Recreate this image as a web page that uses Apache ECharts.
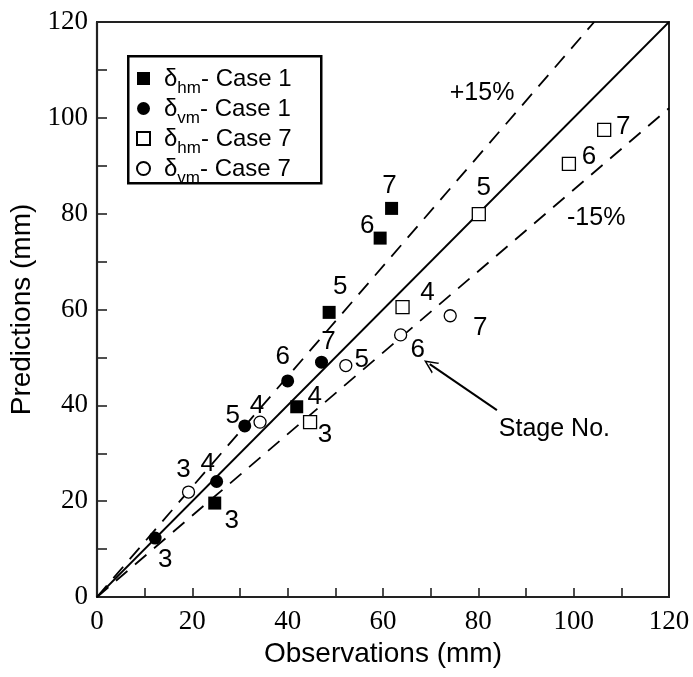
<!DOCTYPE html>
<html>
<head>
<meta charset="utf-8">
<script src="https://cdn.jsdelivr.net/npm/echarts@6/dist/echarts.min.js"></script>
<style>html,body{margin:0;padding:0;background:#fff}#c{width:693px;height:677px}</style>
</head>
<body>
<div id="c"></div>
<script>
const stages = [3, 4, 5, 6, 7];
const obsHmCase1 = [24.7, 41.9, 48.7, 59.4, 61.8];
const predHmCase1 = [19.6, 39.7, 59.4, 74.9, 81.1];
const obsVmCase1 = [12.2, 25.1, 31.0, 40.0, 47.1];
const predVmCase1 = [12.3, 24.1, 35.7, 45.1, 49.0];
const obsHmCase7 = [44.7, 64.1, 80.1, 99.0, 106.4];
const predHmCase7 = [36.5, 60.5, 79.9, 90.4, 97.5];
const obsVmCase7 = [19.2, 34.2, 52.2, 63.7, 74.1];
const predVmCase7 = [21.9, 36.5, 48.3, 54.7, 58.7];
const oneToOneLine = [[0, 0], [120, 120]];
const plus15Line = [[0, 0], [104.3, 120]];
const minus15Line = [[0, 0], [120, 102]];
const xTicks = [0, 20, 40, 60, 80, 100, 120];
const yTicks = [0, 20, 40, 60, 80, 100, 120];
const annotTexts = ['+15%', '-15%', 'Stage No.'];
const annotPos = [[74.0, 105.2], [98.6, 79.1], [84.3, 35.0]];
const arrowFrom = [83.9, 39.0];
const arrowTo = [69.8, 48.6];

// label offsets in pixels (style, not data)
const offHm1 = [[17, 18], [18, -10], [11, -26], [-13, -12], [-2, -23]];
const offVm1 = [[10, 22], [-9, -18], [-12, -10], [-5, -24], [7, -20]];
const offHm7 = [[15, 13], [25, -14], [5, -26], [20, -7], [19, -3]];
const offVm7 = [[-5, -22], [-3, -16], [16, -6], [17, 15], [30, 12]];

const SANS = '"Liberation Sans", Arial, Helvetica, sans-serif';
const SERIF = '"Liberation Serif", "Times New Roman", serif';

function pts(xs, ys, offs) {
  return xs.map((x, i) => ({
    value: [x, ys[i]],
    name: String(stages[i]),
    label: { offset: offs[i] }
  }));
}
const ptLabel = {
  show: true, position: 'inside', formatter: '{b}',
  fontSize: 26, fontFamily: SANS, color: '#000'
};

const chart = echarts.init(document.getElementById('c'), null, { renderer: 'canvas' });
const names = ['hm1', 'vm1', 'hm7', 'vm7'];
const legendText = {
  hm1: '{d|δ}{s|hm}{t|- Case 1}',
  vm1: '{d|δ}{s|vm}{t|- Case 1}',
  hm7: '{d|δ}{s|hm}{t|- Case 7}',
  vm7: '{d|δ}{s|vm}{t|- Case 7}'
};
const refStyle = (type) => ({
  type: 'line', data: null, showSymbol: false, symbol: 'none', silent: true,
  lineStyle: { color: '#000', width: 1.8, type: type }, z: 1, animation: false
});
const s1 = refStyle('solid'); s1.data = oneToOneLine;
const s2 = refStyle([15, 10]); s2.data = plus15Line;
const s3 = refStyle([15, 10]); s3.data = minus15Line;

chart.setOption({
  animation: false,
  backgroundColor: '#fff',
  grid: { left: 97, right: 24, top: 22, bottom: 80, show: true, borderColor: '#222', borderWidth: 2, backgroundColor: 'transparent' },
  graphic: [{
    type: 'rect', left: 127, top: 55, z: 10,
    shape: { width: 193, height: 127 },
    style: { fill: 'transparent', stroke: '#000', lineWidth: 2.5 }
  }],
  xAxis: {
    type: 'value', min: 0, max: 120, interval: 10,
    name: 'Observations (mm)', nameLocation: 'middle', nameGap: 41,
    nameTextStyle: { fontSize: 28, fontFamily: SANS, color: '#000' },
    axisLine: { lineStyle: { color: '#222', width: 2.2 } },
    axisTick: { inside: true, length: 9, lineStyle: { color: '#222', width: 1.6 } },
    axisLabel: { margin: 11, fontSize: 27, fontFamily: SERIF, color: '#000',
      formatter: v => xTicks.includes(v) ? String(v) : '' },
    splitLine: { show: false }
  },
  yAxis: {
    type: 'value', min: 0, max: 120, interval: 10,
    name: 'Predictions (mm)', nameLocation: 'middle', nameGap: 52, nameRotate: 90,
    nameTextStyle: { fontSize: 28, fontFamily: SANS, color: '#000' },
    axisLine: { lineStyle: { color: '#222', width: 2.2 } },
    axisTick: { inside: true, length: 10, lineStyle: { color: '#222', width: 1.6 } },
    axisLabel: { margin: 9, fontSize: 27, fontFamily: SERIF, color: '#000',
      formatter: v => yTicks.includes(v) ? String(v) : '' },
    splitLine: { show: false }
  },
  legend: {
    orient: 'vertical', left: 136, top: 67,
    data: names,
    padding: 0,
    itemWidth: 13, itemHeight: 13, itemGap: 0,
    formatter: n => legendText[n],
    textStyle: {
      color: '#000', fontFamily: SANS, fontSize: 24, padding: [0, 0, 0, 9],
      rich: {
        d: { fontSize: 24, fontFamily: SANS, color: '#000', lineHeight: 25, verticalAlign: 'bottom' },
        s: { fontSize: 17, fontFamily: SANS, color: '#000', lineHeight: 25, verticalAlign: 'bottom', padding: [0, 0, -6, 0] },
        t: { fontSize: 24, fontFamily: SANS, color: '#000', lineHeight: 25, verticalAlign: 'bottom' }
      }
    }
  },
  series: [
    s1, s2, s3,
    { name: 'hm1', type: 'scatter', symbol: 'rect', symbolSize: 13,
      itemStyle: { color: '#000', opacity: 1 }, label: ptLabel, data: pts(obsHmCase1, predHmCase1, offHm1), z: 5 },
    { name: 'vm1', type: 'scatter', symbol: 'circle', symbolSize: 13,
      itemStyle: { color: '#000', opacity: 1 }, label: ptLabel, data: pts(obsVmCase1, predVmCase1, offVm1), z: 5 },
    { name: 'hm7', type: 'scatter', symbol: 'rect', symbolSize: 13,
      itemStyle: { color: '#fff', borderColor: '#000', borderWidth: 1.3, opacity: 1 }, label: ptLabel, data: pts(obsHmCase7, predHmCase7, offHm7), z: 5 },
    { name: 'vm7', type: 'scatter', symbol: 'circle', symbolSize: 12,
      itemStyle: { color: '#fff', borderColor: '#000', borderWidth: 1.3, opacity: 1 }, label: ptLabel, data: pts(obsVmCase7, predVmCase7, offVm7), z: 5 },
    { name: 'annot', type: 'scatter', symbolSize: 0, silent: true,
      itemStyle: { opacity: 1 },
      data: annotTexts.map((t, i) => ({ value: annotPos[i], name: t })),
      label: { show: true, position: 'right', distance: 0, formatter: '{b}', fontSize: 25, fontFamily: SANS, color: '#000' },
      markLine: {
        silent: true,
        symbol: ['none', 'path://M0,12 L6,0 L12,12 L10.5,12 L6,3 L1.5,12 Z'],
        symbolSize: [13, 14],
        lineStyle: { color: '#000', width: 2, type: 'solid' },
        label: { show: false },
        data: [[{ coord: arrowFrom }, { coord: arrowTo }]]
      }
    }
  ]
});
</script>
</body>
</html>
